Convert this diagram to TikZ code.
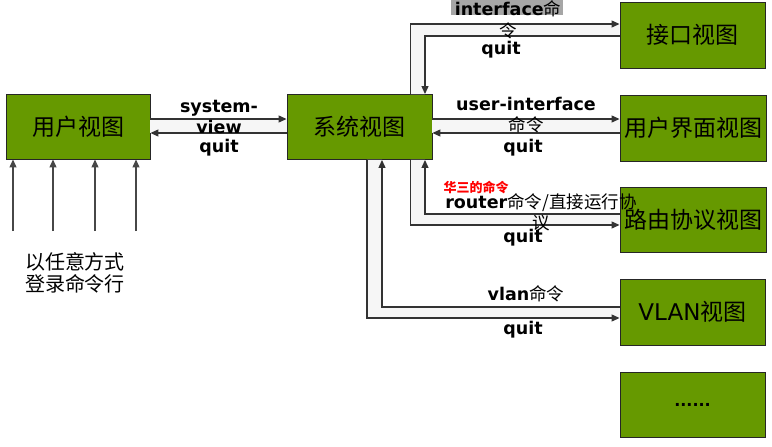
\documentclass[tikz,border=0pt]{standalone}
\usepackage{fontspec}
\setmainfont{Noto Sans CJK SC}
\newfontfamily\lat{DejaVu Sans}
\usetikzlibrary{arrows.meta}
\definecolor{boxgreen}{HTML}{669900}
\definecolor{lnc}{HTML}{333333}
\definecolor{chan}{HTML}{F6F6F6}
\definecolor{hlgray}{HTML}{A6A6A6}
\newcommand{\lbf}[1]{{\lat\bfseries #1}}
\begin{document}
\begin{tikzpicture}[x=1pt,y=-1pt,
  view/.style={draw=black!85, line width=0.9pt, fill=boxgreen, minimum width=145pt, minimum height=65pt, inner sep=0pt, font=\fontsize{23}{26}\selectfont},
  lbl/.style={inner sep=0pt, align=center, font=\fontsize{17.5}{21.5}\selectfont},
  conn/.style={draw=lnc, line width=1.2pt, -{Triangle[length=8pt,width=7pt]}},
  chanfill/.style={fill=chan}]
\useasboundingbox (0,0) rectangle (772,447);
% boxes
\node[view, minimum width=144pt] (user) at (78,126.5) {用户视图};
\node[view] (sys) at (359.5,127) {系统视图};
\node[view, minimum height=66pt] (iface) at (692.5,35) {接口视图};
\node[view, minimum width=146pt, minimum height=66pt] (uif) at (693,128) {用户界面视图};
\node[view, minimum width=146pt] (route) at (693,219.5) {路由协议视图};
\node[view, minimum height=66pt] (vlan) at (692.5,312) {{\lat VLAN}视图};
\node[view] (more) at (692.5,404.5) {{\lat\bfseries\fontsize{16}{20}\selectfont ......}};
% user <-> sys
\coordinate (a1) at ([yshift=7.5pt]user.east);
\coordinate (a2) at (sys.west |- a1);
\coordinate (b1) at ([yshift=-6.5pt]user.east);
\coordinate (b2) at (sys.west |- b1);
\fill[chanfill] (a1) rectangle (b2);
\draw[conn] (a1) -- (a2);
\draw[conn] (b2) -- (b1);
% sys <-> user-interface
\coordinate (c1) at ([yshift=8pt]sys.east);
\coordinate (c2) at (uif.west |- c1);
\coordinate (d1) at ([yshift=-6pt]sys.east);
\coordinate (d2) at (uif.west |- d1);
\fill[chanfill] (c1) rectangle (d2);
\draw[conn] (c1) -- (c2);
\draw[conn] (d2) -- (d1);
% sys <-> interface
\coordinate (e0) at ([xshift=51pt]sys.north);
\coordinate (e2) at ([yshift=11pt]iface.west);
\coordinate (f0) at ([xshift=65.5pt]sys.north);
\coordinate (f2) at ([yshift=-1pt]iface.west);
\fill[chanfill] (e0) |- (e2) -- (f2) -| (f0) -- cycle;
\draw[conn] (e0) |- (e2);
\draw[conn] (f2) -| (f0);
% sys <-> routing
\coordinate (g0) at ([xshift=51pt]sys.south);
\coordinate (g2) at ([yshift=-5.5pt]route.west);
\coordinate (h0) at ([xshift=65.5pt]sys.south);
\coordinate (h2) at ([yshift=5.5pt]route.west);
\fill[chanfill] (g0) |- (g2) -- (h2) -| (h0) -- cycle;
\draw[conn] (g0) |- (g2);
\draw[conn] (h2) -| (h0);
% sys <-> vlan
\coordinate (i0) at ([xshift=7.5pt]sys.south);
\coordinate (i2) at ([yshift=-6pt]vlan.west);
\coordinate (j0) at ([xshift=22.5pt]sys.south);
\coordinate (j2) at ([yshift=5pt]vlan.west);
\fill[chanfill] (i0) |- (i2) -- (j2) -| (j0) -- cycle;
\draw[conn] (i0) |- (i2);
\draw[conn] (j2) -| (j0);
% login arrows
\foreach \x/\n in {13/1,53/2,95/3,136/4}{
  \coordinate (l\n) at (\x,231);
  \draw[conn, draw=black!72] (l\n) -- (l\n |- user.south);
}
\node[inner sep=0pt, align=center, font=\fontsize{20}{21.5}\selectfont] (login) at (75,273) {以任意方式\\登录命令行};
% labels
\node[lbl] (t1) at (219,117) {\lbf{system-}\\\lbf{view}};
\node[lbl] (q1) at (219,148) {\lbf{quit}};
\fill[hlgray] (451,-2) rectangle (563,15);
\node[lbl] (t2a) at (508,9) {\lbf{interface}命};
\node[lbl] (t2b) at (508,31) {令};
\node[lbl] (q2) at (501,50) {\lbf{quit}};
\node[lbl] (t3) at (526,115) {\lbf{user-interface}\\命令};
\node[lbl] (q3) at (523,148) {\lbf{quit}};
\node[lbl, text=red, font=\fontsize{13}{15}\selectfont\bfseries] (red) at (476,187) {华三的命令};
\node[lbl] (t4) at (541,212.5) {\lbf{router}命令/直接运行协\\议};
\node[lbl] (q4) at (523,238) {\lbf{quit}};
\node[lbl] (t5) at (526,294) {\lbf{vlan}命令};
\node[lbl] (q5) at (523,330) {\lbf{quit}};
\end{tikzpicture}
\end{document}
